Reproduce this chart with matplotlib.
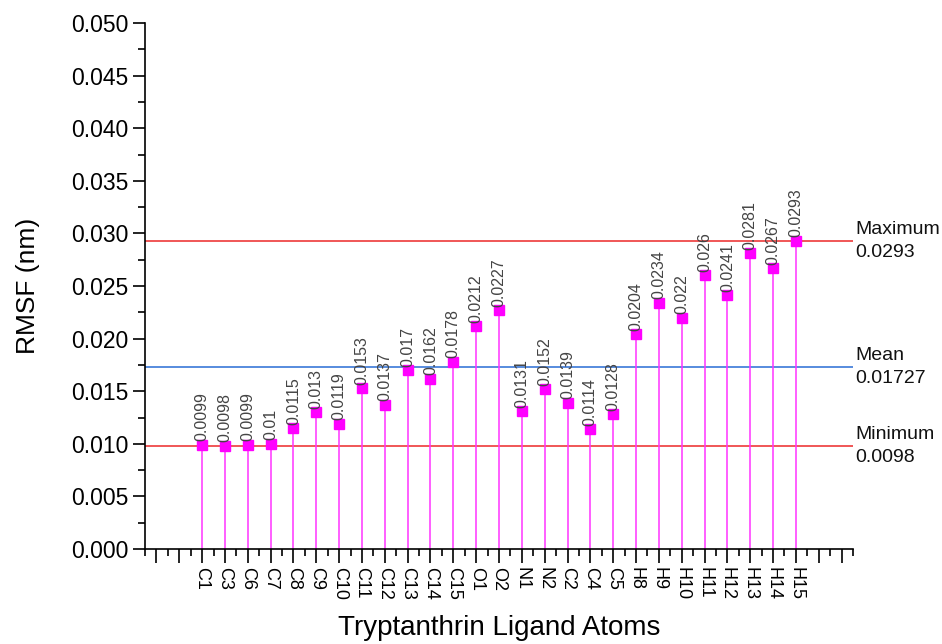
import matplotlib
matplotlib.use("Agg")
import matplotlib.pyplot as plt
from matplotlib.ticker import MultipleLocator, FixedLocator, FixedFormatter

plt.rcParams['font.family'] = ['Liberation Sans', 'DejaVu Sans']

atoms = ["C1", "C3", "C6", "C7", "C8", "C9", "C10", "C11", "C12", "C13", "C14",
         "C15", "O1", "O2", "N1", "N2", "C2", "C4", "C5", "H8", "H9", "H10",
         "H11", "H12", "H13", "H14", "H15"]
rmsf = [0.0099, 0.0098, 0.0099, 0.01, 0.0115, 0.013, 0.0119, 0.0153, 0.0137,
        0.017, 0.0162, 0.0178, 0.0212, 0.0227, 0.0131, 0.0152, 0.0139, 0.0114,
        0.0128, 0.0204, 0.0234, 0.022, 0.026, 0.0241, 0.0281, 0.0267, 0.0293]
value_labels = ["0.0099", "0.0098", "0.0099", "0.01", "0.0115", "0.013", "0.0119",
                "0.0153", "0.0137", "0.017", "0.0162", "0.0178", "0.0212", "0.0227",
                "0.0131", "0.0152", "0.0139", "0.0114", "0.0128", "0.0204", "0.0234",
                "0.022", "0.026", "0.0241", "0.0281", "0.0267", "0.0293"]
ref_names = ["Maximum", "Mean", "Minimum"]
ref_values = [0.0293, 0.01727, 0.0098]
ref_labels = ["0.0293", "0.01727", "0.0098"]
ref_colors = ["#ee3a3a", "#3a78d8", "#ee3a3a"]

fig = plt.figure(figsize=(9.42, 6.44), dpi=100)
ax = fig.add_axes([145/942, 1 - 549/644, (853-145)/942, (549-23)/644])

x = list(range(1, len(atoms) + 1))

for name, val, lab, col in zip(ref_names, ref_values, ref_labels, ref_colors):
    ax.axhline(val, color=col, lw=1.2, zorder=1)
    ax.text(29.6, val, f"{name}\n{lab}", ha='left', va='center', fontsize=14,
            linespacing=1.45, clip_on=False, color='#111111')

ax.vlines(x, 0, rmsf, color='#ff33ff', lw=1.1, zorder=2)
ax.plot(x, rmsf, 's', color='#ff00ff', markersize=7.5, zorder=3)
for xi, v, lab in zip(x, rmsf, value_labels):
    ax.annotate(lab, (xi, v), xytext=(0, 2.5), textcoords='offset points',
                rotation=90, ha='center', va='bottom', fontsize=11.5, color='#444444',
                zorder=4)

ax.set_xlim(-1.5, 29.5)
ax.set_ylim(0, 0.050)

ax.xaxis.set_major_locator(FixedLocator(list(range(-1, 30))))
ax.xaxis.set_major_formatter(FixedFormatter([""] * 2 + atoms + [""] * 2))
ax.xaxis.set_minor_locator(MultipleLocator(0.5))
ax.yaxis.set_major_locator(MultipleLocator(0.005))
ax.yaxis.set_minor_locator(MultipleLocator(0.0025))
ax.yaxis.set_major_formatter(matplotlib.ticker.FormatStrFormatter('%.3f'))

for lbl in ax.get_xticklabels():
    lbl.set_rotation(270)
ax.tick_params(axis='x', which='major', length=10, width=1.2, labelsize=13, pad=3)
ax.tick_params(axis='x', which='minor', length=5, width=1.2)
ax.tick_params(axis='y', which='major', length=9, width=1.2, labelsize=16.5, pad=3)
ax.tick_params(axis='y', which='minor', length=5, width=1.2)

ax.spines['top'].set_visible(False)
ax.spines['right'].set_visible(False)
ax.spines['left'].set_linewidth(1.2)
ax.spines['bottom'].set_linewidth(1.2)

ax.set_ylabel("RMSF (nm)", fontsize=19, labelpad=22)
ax.set_xlabel("Tryptanthrin Ligand Atoms", fontsize=20, labelpad=11)

fig.savefig("out.png", dpi=100)
